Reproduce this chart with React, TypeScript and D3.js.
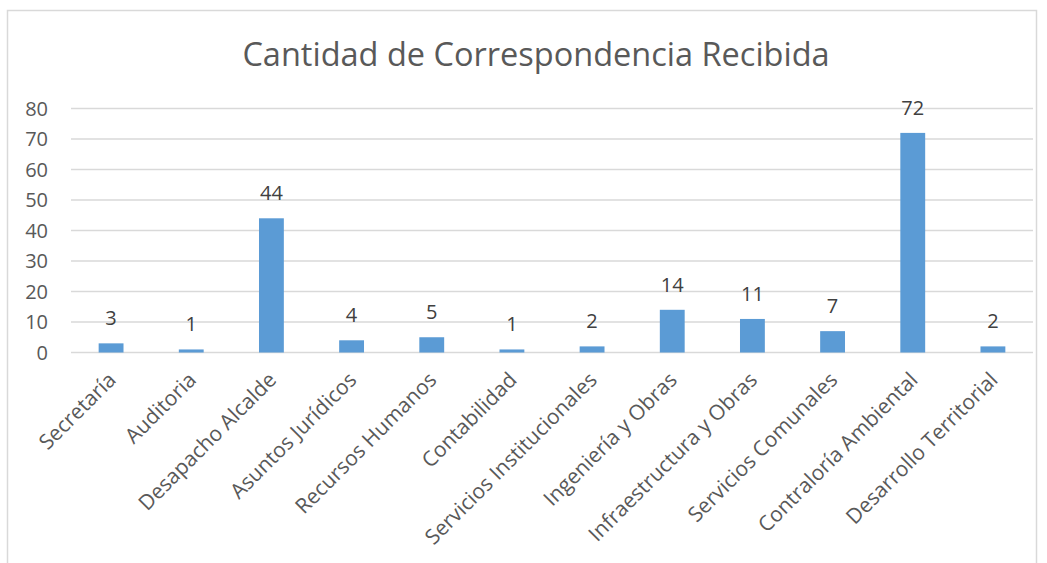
import React, { useRef, useEffect } from 'react'
import * as d3 from 'd3'

const categories = [
  'Secretaría',
  'Auditoria',
  'Desapacho Alcalde',
  'Asuntos Jurídicos',
  'Recursos Humanos',
  'Contabilidad',
  'Servicios Institucionales',
  'Ingeniería y Obras',
  'Infraestructura y Obras',
  'Servicios Comunales',
  'Contraloría Ambiental',
  'Desarrollo Territorial',
]
const values = [3, 1, 44, 4, 5, 1, 2, 14, 11, 7, 72, 2]
const yTicks = [0, 10, 20, 30, 40, 50, 60, 70, 80]
const title = 'Cantidad de Correspondencia Recibida'

const App = () => {
  const svgRef = useRef<SVGSVGElement>(null)

  useEffect(() => {
    const left = 71
    const right = 1033
    const top = 108.5
    const bottom = 352.5
    const textColor = '#595959'
    const font = '"Open Sans", "Noto Sans", sans-serif'

    const svg = d3.select(svgRef.current)
    svg.selectAll('*').remove()

    svg.append('rect')
      .attr('x', 7.5).attr('y', 10.5)
      .attr('width', 1029).attr('height', 600)
      .attr('fill', '#fff')
      .attr('stroke', '#d9d9d9')
      .attr('stroke-width', 1.5)

    const xScale = d3.scaleBand()
      .domain(categories)
      .range([left, right])
      .paddingInner(0.69)
      .paddingOuter(0.345)

    const yScale = d3.scaleLinear()
      .domain([0, 80])
      .range([bottom, top])

    // grid lines
    svg.append('g')
      .selectAll('line')
      .data(yTicks)
      .join('line')
      .attr('x1', left).attr('x2', right)
      .attr('y1', d => yScale(d)).attr('y2', d => yScale(d))
      .attr('stroke', '#d9d9d9')
      .attr('stroke-width', 1.5)

    // y labels
    svg.append('g')
      .selectAll('text')
      .data(yTicks)
      .join('text')
      .attr('x', 48)
      .attr('y', d => yScale(d))
      .attr('dy', '0.35em')
      .attr('text-anchor', 'end')
      .style('font-family', font)
      .style('font-size', '20px')
      .style('fill', textColor)
      .text(d => d)

    // bars
    svg.append('g')
      .selectAll('rect')
      .data(values)
      .join('rect')
      .attr('x', (d, i) => xScale(categories[i]) as number)
      .attr('y', d => yScale(d))
      .attr('width', xScale.bandwidth())
      .attr('height', d => bottom - yScale(d))
      .attr('fill', '#5b9bd5')

    // data labels
    svg.append('g')
      .selectAll('text')
      .data(values)
      .join('text')
      .attr('x', (d, i) => (xScale(categories[i]) as number) + xScale.bandwidth() / 2)
      .attr('y', d => yScale(d) - 18)
      .attr('text-anchor', 'middle')
      .style('font-family', font)
      .style('font-size', '20px')
      .style('fill', '#404040')
      .text(d => d)

    // category labels
    svg.append('g')
      .selectAll('text')
      .data(categories)
      .join('text')
      .attr('transform', d => 'translate(' + ((xScale(d) as number) + xScale.bandwidth() / 2 + 1) + ',' + 376 + ') rotate(-45)')
      .attr('text-anchor', 'end')
      .attr('dy', '0.35em')
      .style('font-family', font)
      .style('font-size', '21px')
      .style('fill', textColor)
      .text(d => d)

    svg.append('text')
      .attr('x', 536)
      .attr('y', 66)
      .attr('text-anchor', 'middle')
      .style('font-family', font)
      .style('font-size', '32.5px')
      .style('fill', textColor)
      .text(title)
  }, [])

  return (
    <svg ref={svgRef} width={1047} height={563} style={{ position: 'absolute', left: 0, top: 0 }} />
  )
}

export default App
